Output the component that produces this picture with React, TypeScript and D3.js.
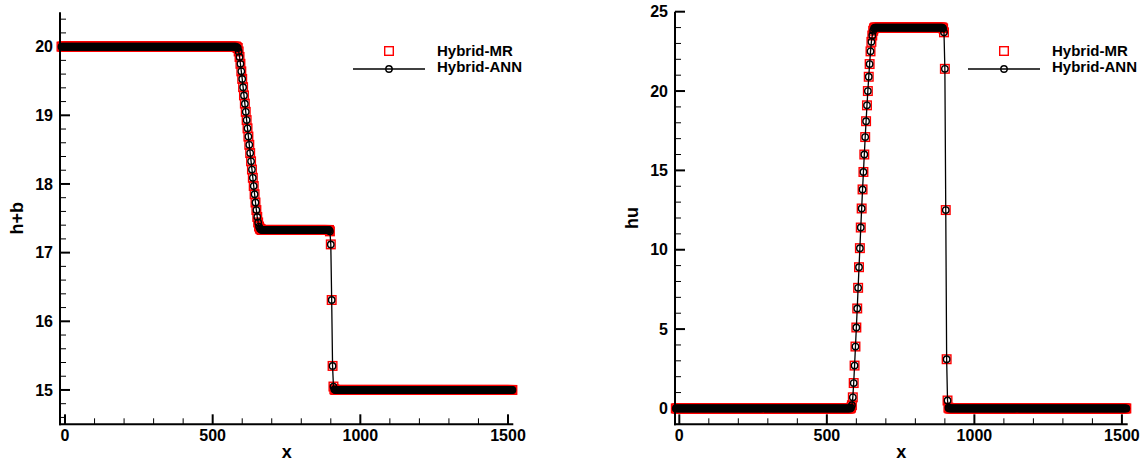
import React from "react";
import * as d3 from "d3";

// x positions of the solution points (uniform mesh)
const xGrid = [
  -12, -9, -6, -3, 0, 3, 6, 9, 12, 15,
  18, 21, 24, 27, 30, 33, 36, 39, 42, 45,
  48, 51, 54, 57, 60, 63, 66, 69, 72, 75,
  78, 81, 84, 87, 90, 93, 96, 99, 102, 105,
  108, 111, 114, 117, 120, 123, 126, 129, 132, 135,
  138, 141, 144, 147, 150, 153, 156, 159, 162, 165,
  168, 171, 174, 177, 180, 183, 186, 189, 192, 195,
  198, 201, 204, 207, 210, 213, 216, 219, 222, 225,
  228, 231, 234, 237, 240, 243, 246, 249, 252, 255,
  258, 261, 264, 267, 270, 273, 276, 279, 282, 285,
  288, 291, 294, 297, 300, 303, 306, 309, 312, 315,
  318, 321, 324, 327, 330, 333, 336, 339, 342, 345,
  348, 351, 354, 357, 360, 363, 366, 369, 372, 375,
  378, 381, 384, 387, 390, 393, 396, 399, 402, 405,
  408, 411, 414, 417, 420, 423, 426, 429, 432, 435,
  438, 441, 444, 447, 450, 453, 456, 459, 462, 465,
  468, 471, 474, 477, 480, 483, 486, 489, 492, 495,
  498, 501, 504, 507, 510, 513, 516, 519, 522, 525,
  528, 531, 534, 537, 540, 543, 546, 549, 552, 555,
  558, 561, 564, 567, 570, 573, 576, 579, 582, 585,
  588, 591, 594, 597, 600, 603, 606, 609, 612, 615,
  618, 621, 624, 627, 630, 633, 636, 639, 642, 645,
  648, 651, 654, 657, 660, 663, 666, 669, 672, 675,
  678, 681, 684, 687, 690, 693, 696, 699, 702, 705,
  708, 711, 714, 717, 720, 723, 726, 729, 732, 735,
  738, 741, 744, 747, 750, 753, 756, 759, 762, 765,
  768, 771, 774, 777, 780, 783, 786, 789, 792, 795,
  798, 801, 804, 807, 810, 813, 816, 819, 822, 825,
  828, 831, 834, 837, 840, 843, 846, 849, 852, 855,
  858, 861, 864, 867, 870, 873, 876, 879, 882, 885,
  888, 891, 894, 897, 900, 903, 906, 909, 912, 915,
  918, 921, 924, 927, 930, 933, 936, 939, 942, 945,
  948, 951, 954, 957, 960, 963, 966, 969, 972, 975,
  978, 981, 984, 987, 990, 993, 996, 999, 1002, 1005,
  1008, 1011, 1014, 1017, 1020, 1023, 1026, 1029, 1032, 1035,
  1038, 1041, 1044, 1047, 1050, 1053, 1056, 1059, 1062, 1065,
  1068, 1071, 1074, 1077, 1080, 1083, 1086, 1089, 1092, 1095,
  1098, 1101, 1104, 1107, 1110, 1113, 1116, 1119, 1122, 1125,
  1128, 1131, 1134, 1137, 1140, 1143, 1146, 1149, 1152, 1155,
  1158, 1161, 1164, 1167, 1170, 1173, 1176, 1179, 1182, 1185,
  1188, 1191, 1194, 1197, 1200, 1203, 1206, 1209, 1212, 1215,
  1218, 1221, 1224, 1227, 1230, 1233, 1236, 1239, 1242, 1245,
  1248, 1251, 1254, 1257, 1260, 1263, 1266, 1269, 1272, 1275,
  1278, 1281, 1284, 1287, 1290, 1293, 1296, 1299, 1302, 1305,
  1308, 1311, 1314, 1317, 1320, 1323, 1326, 1329, 1332, 1335,
  1338, 1341, 1344, 1347, 1350, 1353, 1356, 1359, 1362, 1365,
  1368, 1371, 1374, 1377, 1380, 1383, 1386, 1389, 1392, 1395,
  1398, 1401, 1404, 1407, 1410, 1413, 1416, 1419, 1422, 1425,
  1428, 1431, 1434, 1437, 1440, 1443, 1446, 1449, 1452, 1455,
  1458, 1461, 1464, 1467, 1470, 1473, 1476, 1479, 1482, 1485,
  1488, 1491, 1494, 1497, 1500, 1503, 1506, 1509, 1512, 1515,
];

// h+b, Hybrid-MR
const hbMR = [
  20, 20, 20, 20, 20, 20, 20, 20, 20, 20,
  20, 20, 20, 20, 20, 20, 20, 20, 20, 20,
  20, 20, 20, 20, 20, 20, 20, 20, 20, 20,
  20, 20, 20, 20, 20, 20, 20, 20, 20, 20,
  20, 20, 20, 20, 20, 20, 20, 20, 20, 20,
  20, 20, 20, 20, 20, 20, 20, 20, 20, 20,
  20, 20, 20, 20, 20, 20, 20, 20, 20, 20,
  20, 20, 20, 20, 20, 20, 20, 20, 20, 20,
  20, 20, 20, 20, 20, 20, 20, 20, 20, 20,
  20, 20, 20, 20, 20, 20, 20, 20, 20, 20,
  20, 20, 20, 20, 20, 20, 20, 20, 20, 20,
  20, 20, 20, 20, 20, 20, 20, 20, 20, 20,
  20, 20, 20, 20, 20, 20, 20, 20, 20, 20,
  20, 20, 20, 20, 20, 20, 20, 20, 20, 20,
  20, 20, 20, 20, 20, 20, 20, 20, 20, 20,
  20, 20, 20, 20, 20, 20, 20, 20, 20, 20,
  20, 20, 20, 20, 20, 20, 20, 20, 20, 20,
  20, 20, 20, 20, 20, 20, 20, 20, 20, 20,
  20, 20, 20, 20, 20, 20, 20, 20, 20, 20,
  20, 20, 20, 20, 20, 20, 20, 20, 19.99, 19.98,
  19.93, 19.85, 19.75, 19.64, 19.53, 19.41, 19.29, 19.17, 19.05, 18.93,
  18.81, 18.69, 18.57, 18.45, 18.33, 18.21, 18.09, 17.97, 17.85, 17.73,
  17.62, 17.52, 17.44, 17.38, 17.35, 17.34, 17.33, 17.33, 17.33, 17.33,
  17.33, 17.33, 17.33, 17.33, 17.33, 17.33, 17.33, 17.33, 17.33, 17.33,
  17.33, 17.33, 17.33, 17.33, 17.33, 17.33, 17.33, 17.33, 17.33, 17.33,
  17.33, 17.33, 17.33, 17.33, 17.33, 17.33, 17.33, 17.33, 17.33, 17.33,
  17.33, 17.33, 17.33, 17.33, 17.33, 17.33, 17.33, 17.33, 17.33, 17.33,
  17.33, 17.33, 17.33, 17.33, 17.33, 17.33, 17.33, 17.33, 17.33, 17.33,
  17.33, 17.33, 17.33, 17.33, 17.33, 17.33, 17.33, 17.33, 17.33, 17.33,
  17.33, 17.33, 17.33, 17.33, 17.33, 17.33, 17.33, 17.33, 17.33, 17.33,
  17.33, 17.33, 17.33, 17.31, 17.12, 16.31, 15.35, 15.05, 15.01, 15,
  15, 15, 15, 15, 15, 15, 15, 15, 15, 15,
  15, 15, 15, 15, 15, 15, 15, 15, 15, 15,
  15, 15, 15, 15, 15, 15, 15, 15, 15, 15,
  15, 15, 15, 15, 15, 15, 15, 15, 15, 15,
  15, 15, 15, 15, 15, 15, 15, 15, 15, 15,
  15, 15, 15, 15, 15, 15, 15, 15, 15, 15,
  15, 15, 15, 15, 15, 15, 15, 15, 15, 15,
  15, 15, 15, 15, 15, 15, 15, 15, 15, 15,
  15, 15, 15, 15, 15, 15, 15, 15, 15, 15,
  15, 15, 15, 15, 15, 15, 15, 15, 15, 15,
  15, 15, 15, 15, 15, 15, 15, 15, 15, 15,
  15, 15, 15, 15, 15, 15, 15, 15, 15, 15,
  15, 15, 15, 15, 15, 15, 15, 15, 15, 15,
  15, 15, 15, 15, 15, 15, 15, 15, 15, 15,
  15, 15, 15, 15, 15, 15, 15, 15, 15, 15,
  15, 15, 15, 15, 15, 15, 15, 15, 15, 15,
  15, 15, 15, 15, 15, 15, 15, 15, 15, 15,
  15, 15, 15, 15, 15, 15, 15, 15, 15, 15,
  15, 15, 15, 15, 15, 15, 15, 15, 15, 15,
  15, 15, 15, 15, 15, 15, 15, 15, 15, 15,
];

// h+b, Hybrid-ANN
const hbANN = [
  20, 20, 20, 20, 20, 20, 20, 20, 20, 20,
  20, 20, 20, 20, 20, 20, 20, 20, 20, 20,
  20, 20, 20, 20, 20, 20, 20, 20, 20, 20,
  20, 20, 20, 20, 20, 20, 20, 20, 20, 20,
  20, 20, 20, 20, 20, 20, 20, 20, 20, 20,
  20, 20, 20, 20, 20, 20, 20, 20, 20, 20,
  20, 20, 20, 20, 20, 20, 20, 20, 20, 20,
  20, 20, 20, 20, 20, 20, 20, 20, 20, 20,
  20, 20, 20, 20, 20, 20, 20, 20, 20, 20,
  20, 20, 20, 20, 20, 20, 20, 20, 20, 20,
  20, 20, 20, 20, 20, 20, 20, 20, 20, 20,
  20, 20, 20, 20, 20, 20, 20, 20, 20, 20,
  20, 20, 20, 20, 20, 20, 20, 20, 20, 20,
  20, 20, 20, 20, 20, 20, 20, 20, 20, 20,
  20, 20, 20, 20, 20, 20, 20, 20, 20, 20,
  20, 20, 20, 20, 20, 20, 20, 20, 20, 20,
  20, 20, 20, 20, 20, 20, 20, 20, 20, 20,
  20, 20, 20, 20, 20, 20, 20, 20, 20, 20,
  20, 20, 20, 20, 20, 20, 20, 20, 20, 20,
  20, 20, 20, 20, 20, 20, 20, 20, 19.99, 19.98,
  19.93, 19.85, 19.75, 19.64, 19.53, 19.41, 19.29, 19.17, 19.05, 18.93,
  18.81, 18.69, 18.57, 18.45, 18.33, 18.21, 18.09, 17.97, 17.85, 17.73,
  17.62, 17.52, 17.44, 17.38, 17.35, 17.34, 17.33, 17.33, 17.33, 17.33,
  17.33, 17.33, 17.33, 17.33, 17.33, 17.33, 17.33, 17.33, 17.33, 17.33,
  17.33, 17.33, 17.33, 17.33, 17.33, 17.33, 17.33, 17.33, 17.33, 17.33,
  17.33, 17.33, 17.33, 17.33, 17.33, 17.33, 17.33, 17.33, 17.33, 17.33,
  17.33, 17.33, 17.33, 17.33, 17.33, 17.33, 17.33, 17.33, 17.33, 17.33,
  17.33, 17.33, 17.33, 17.33, 17.33, 17.33, 17.33, 17.33, 17.33, 17.33,
  17.33, 17.33, 17.33, 17.33, 17.33, 17.33, 17.33, 17.33, 17.33, 17.33,
  17.33, 17.33, 17.33, 17.33, 17.33, 17.33, 17.33, 17.33, 17.33, 17.33,
  17.33, 17.33, 17.33, 17.31, 17.12, 16.31, 15.35, 15.05, 15.01, 15,
  15, 15, 15, 15, 15, 15, 15, 15, 15, 15,
  15, 15, 15, 15, 15, 15, 15, 15, 15, 15,
  15, 15, 15, 15, 15, 15, 15, 15, 15, 15,
  15, 15, 15, 15, 15, 15, 15, 15, 15, 15,
  15, 15, 15, 15, 15, 15, 15, 15, 15, 15,
  15, 15, 15, 15, 15, 15, 15, 15, 15, 15,
  15, 15, 15, 15, 15, 15, 15, 15, 15, 15,
  15, 15, 15, 15, 15, 15, 15, 15, 15, 15,
  15, 15, 15, 15, 15, 15, 15, 15, 15, 15,
  15, 15, 15, 15, 15, 15, 15, 15, 15, 15,
  15, 15, 15, 15, 15, 15, 15, 15, 15, 15,
  15, 15, 15, 15, 15, 15, 15, 15, 15, 15,
  15, 15, 15, 15, 15, 15, 15, 15, 15, 15,
  15, 15, 15, 15, 15, 15, 15, 15, 15, 15,
  15, 15, 15, 15, 15, 15, 15, 15, 15, 15,
  15, 15, 15, 15, 15, 15, 15, 15, 15, 15,
  15, 15, 15, 15, 15, 15, 15, 15, 15, 15,
  15, 15, 15, 15, 15, 15, 15, 15, 15, 15,
  15, 15, 15, 15, 15, 15, 15, 15, 15, 15,
  15, 15, 15, 15, 15, 15, 15, 15, 15, 15,
];

// hu, Hybrid-MR
const huMR = [
  0, 0, 0, 0, 0, 0, 0, 0, 0, 0,
  0, 0, 0, 0, 0, 0, 0, 0, 0, 0,
  0, 0, 0, 0, 0, 0, 0, 0, 0, 0,
  0, 0, 0, 0, 0, 0, 0, 0, 0, 0,
  0, 0, 0, 0, 0, 0, 0, 0, 0, 0,
  0, 0, 0, 0, 0, 0, 0, 0, 0, 0,
  0, 0, 0, 0, 0, 0, 0, 0, 0, 0,
  0, 0, 0, 0, 0, 0, 0, 0, 0, 0,
  0, 0, 0, 0, 0, 0, 0, 0, 0, 0,
  0, 0, 0, 0, 0, 0, 0, 0, 0, 0,
  0, 0, 0, 0, 0, 0, 0, 0, 0, 0,
  0, 0, 0, 0, 0, 0, 0, 0, 0, 0,
  0, 0, 0, 0, 0, 0, 0, 0, 0, 0,
  0, 0, 0, 0, 0, 0, 0, 0, 0, 0,
  0, 0, 0, 0, 0, 0, 0, 0, 0, 0,
  0, 0, 0, 0, 0, 0, 0, 0, 0, 0,
  0, 0, 0, 0, 0, 0, 0, 0, 0, 0,
  0, 0, 0, 0, 0, 0, 0, 0, 0, 0,
  0, 0, 0, 0, 0, 0, 0, 0, 0, 0,
  0, 0, 0, 0, 0, 0, 0, 0, 0.05, 0.2,
  0.7, 1.6, 2.7, 3.9, 5.1, 6.3, 7.6, 8.9, 10.1, 11.4,
  12.6, 13.8, 14.9, 16.0, 17.1, 18.1, 19.1, 20.0, 20.9, 21.7,
  22.5, 23.1, 23.5, 23.8, 23.95, 24, 24, 24, 24, 24,
  24, 24, 24, 24, 24, 24, 24, 24, 24, 24,
  24, 24, 24, 24, 24, 24, 24, 24, 24, 24,
  24, 24, 24, 24, 24, 24, 24, 24, 24, 24,
  24, 24, 24, 24, 24, 24, 24, 24, 24, 24,
  24, 24, 24, 24, 24, 24, 24, 24, 24, 24,
  24, 24, 24, 24, 24, 24, 24, 24, 24, 24,
  24, 24, 24, 24, 24, 24, 24, 24, 24, 24,
  24, 24, 23.95, 23.7, 21.4, 12.5, 3.1, 0.5, 0.05, 0,
  0, 0, 0, 0, 0, 0, 0, 0, 0, 0,
  0, 0, 0, 0, 0, 0, 0, 0, 0, 0,
  0, 0, 0, 0, 0, 0, 0, 0, 0, 0,
  0, 0, 0, 0, 0, 0, 0, 0, 0, 0,
  0, 0, 0, 0, 0, 0, 0, 0, 0, 0,
  0, 0, 0, 0, 0, 0, 0, 0, 0, 0,
  0, 0, 0, 0, 0, 0, 0, 0, 0, 0,
  0, 0, 0, 0, 0, 0, 0, 0, 0, 0,
  0, 0, 0, 0, 0, 0, 0, 0, 0, 0,
  0, 0, 0, 0, 0, 0, 0, 0, 0, 0,
  0, 0, 0, 0, 0, 0, 0, 0, 0, 0,
  0, 0, 0, 0, 0, 0, 0, 0, 0, 0,
  0, 0, 0, 0, 0, 0, 0, 0, 0, 0,
  0, 0, 0, 0, 0, 0, 0, 0, 0, 0,
  0, 0, 0, 0, 0, 0, 0, 0, 0, 0,
  0, 0, 0, 0, 0, 0, 0, 0, 0, 0,
  0, 0, 0, 0, 0, 0, 0, 0, 0, 0,
  0, 0, 0, 0, 0, 0, 0, 0, 0, 0,
  0, 0, 0, 0, 0, 0, 0, 0, 0, 0,
  0, 0, 0, 0, 0, 0, 0, 0, 0, 0,
];

// hu, Hybrid-ANN
const huANN = [
  0, 0, 0, 0, 0, 0, 0, 0, 0, 0,
  0, 0, 0, 0, 0, 0, 0, 0, 0, 0,
  0, 0, 0, 0, 0, 0, 0, 0, 0, 0,
  0, 0, 0, 0, 0, 0, 0, 0, 0, 0,
  0, 0, 0, 0, 0, 0, 0, 0, 0, 0,
  0, 0, 0, 0, 0, 0, 0, 0, 0, 0,
  0, 0, 0, 0, 0, 0, 0, 0, 0, 0,
  0, 0, 0, 0, 0, 0, 0, 0, 0, 0,
  0, 0, 0, 0, 0, 0, 0, 0, 0, 0,
  0, 0, 0, 0, 0, 0, 0, 0, 0, 0,
  0, 0, 0, 0, 0, 0, 0, 0, 0, 0,
  0, 0, 0, 0, 0, 0, 0, 0, 0, 0,
  0, 0, 0, 0, 0, 0, 0, 0, 0, 0,
  0, 0, 0, 0, 0, 0, 0, 0, 0, 0,
  0, 0, 0, 0, 0, 0, 0, 0, 0, 0,
  0, 0, 0, 0, 0, 0, 0, 0, 0, 0,
  0, 0, 0, 0, 0, 0, 0, 0, 0, 0,
  0, 0, 0, 0, 0, 0, 0, 0, 0, 0,
  0, 0, 0, 0, 0, 0, 0, 0, 0, 0,
  0, 0, 0, 0, 0, 0, 0, 0, 0.05, 0.2,
  0.7, 1.6, 2.7, 3.9, 5.1, 6.3, 7.6, 8.9, 10.1, 11.4,
  12.6, 13.8, 14.9, 16.0, 17.1, 18.1, 19.1, 20.0, 20.9, 21.7,
  22.5, 23.1, 23.5, 23.8, 23.95, 24, 24, 24, 24, 24,
  24, 24, 24, 24, 24, 24, 24, 24, 24, 24,
  24, 24, 24, 24, 24, 24, 24, 24, 24, 24,
  24, 24, 24, 24, 24, 24, 24, 24, 24, 24,
  24, 24, 24, 24, 24, 24, 24, 24, 24, 24,
  24, 24, 24, 24, 24, 24, 24, 24, 24, 24,
  24, 24, 24, 24, 24, 24, 24, 24, 24, 24,
  24, 24, 24, 24, 24, 24, 24, 24, 24, 24,
  24, 24, 23.95, 23.7, 21.4, 12.5, 3.1, 0.5, 0.05, 0,
  0, 0, 0, 0, 0, 0, 0, 0, 0, 0,
  0, 0, 0, 0, 0, 0, 0, 0, 0, 0,
  0, 0, 0, 0, 0, 0, 0, 0, 0, 0,
  0, 0, 0, 0, 0, 0, 0, 0, 0, 0,
  0, 0, 0, 0, 0, 0, 0, 0, 0, 0,
  0, 0, 0, 0, 0, 0, 0, 0, 0, 0,
  0, 0, 0, 0, 0, 0, 0, 0, 0, 0,
  0, 0, 0, 0, 0, 0, 0, 0, 0, 0,
  0, 0, 0, 0, 0, 0, 0, 0, 0, 0,
  0, 0, 0, 0, 0, 0, 0, 0, 0, 0,
  0, 0, 0, 0, 0, 0, 0, 0, 0, 0,
  0, 0, 0, 0, 0, 0, 0, 0, 0, 0,
  0, 0, 0, 0, 0, 0, 0, 0, 0, 0,
  0, 0, 0, 0, 0, 0, 0, 0, 0, 0,
  0, 0, 0, 0, 0, 0, 0, 0, 0, 0,
  0, 0, 0, 0, 0, 0, 0, 0, 0, 0,
  0, 0, 0, 0, 0, 0, 0, 0, 0, 0,
  0, 0, 0, 0, 0, 0, 0, 0, 0, 0,
  0, 0, 0, 0, 0, 0, 0, 0, 0, 0,
  0, 0, 0, 0, 0, 0, 0, 0, 0, 0,
];

const xMajorTicks = [0, 500, 1000, 1500];
const leftYMajorTicks = [15, 16, 17, 18, 19, 20];
const rightYMajorTicks = [0, 5, 10, 15, 20, 25];
const legendLabels = ["Hybrid-MR", "Hybrid-ANN"];

const FONT = "'Liberation Sans', Arial, Helvetica, sans-serif";
const RED = "#ff0000";

type PanelProps = {
  xDomain: [number, number];
  xRange: [number, number];
  yDomain: [number, number];
  yRange: [number, number];
  yMajor: number[];
  yMinorCount: number;
  yTitle: string;
  mr: number[];
  ann: number[];
};

function Panel(p: PanelProps) {
  const x = d3.scaleLinear().domain(p.xDomain).range(p.xRange);
  const y = d3.scaleLinear().domain(p.yDomain).range(p.yRange);
  const x0 = p.xRange[0];
  const y0 = p.yRange[0];
  const xMinor = x.ticks(15).filter((t) => !xMajorTicks.includes(t));
  const yMinor = y
    .ticks(p.yMinorCount)
    .filter((t) => !p.yMajor.some((m) => Math.abs(m - t) < 1e-6));
  const line = d3
    .line<number>()
    .x((_, i) => x(xGrid[i]))
    .y((d) => y(d));
  const sq = 8.6;
  const legCx = x0 + 329;
  return (
    <g>
      {/* Hybrid-MR squares */}
      <g fill="none" stroke={RED} strokeWidth={1.4}>
        {p.mr.map((v, i) => (
          <rect
            key={i}
            x={x(xGrid[i]) - sq / 2}
            y={y(v) - sq / 2}
            width={sq}
            height={sq}
          />
        ))}
      </g>
      {/* Hybrid-ANN line + circles */}
      <path d={line(p.ann) || ""} fill="none" stroke="#000" strokeWidth={1.3} />
      <g fill="none" stroke="#000" strokeWidth={1.4}>
        {p.ann.map((v, i) => (
          <circle key={i} cx={x(xGrid[i])} cy={y(v)} r={3.2} />
        ))}
      </g>
      {/* axes */}
      <line x1={x0} x2={x0} y1={p.yRange[1]} y2={y0 + 1} stroke="#000" strokeWidth={2} />
      <line x1={x0 - 1} x2={p.xRange[1]} y1={y0} y2={y0} stroke="#000" strokeWidth={2} />
      {xMajorTicks.map((t) => (
        <g key={"xm" + t}>
          <line x1={x(t)} x2={x(t)} y1={y0} y2={y0 - 10} stroke="#000" strokeWidth={2} />
          <text
            x={x(t)}
            y={y0 + 17}
            textAnchor="middle"
            fontFamily={FONT}
            fontWeight="bold"
            fontSize={16}
          >
            {t}
          </text>
        </g>
      ))}
      {xMinor.map((t) => (
        <line key={"xn" + t} x1={x(t)} x2={x(t)} y1={y0} y2={y0 - 6} stroke="#000" strokeWidth={1} />
      ))}
      {p.yMajor.map((t) => (
        <g key={"ym" + t}>
          <line x1={x0} x2={x0 + 10} y1={y(t)} y2={y(t)} stroke="#000" strokeWidth={2} />
          <text
            x={x0 - 7}
            y={y(t)}
            dy="0.36em"
            textAnchor="end"
            fontFamily={FONT}
            fontWeight="bold"
            fontSize={16}
          >
            {t}
          </text>
        </g>
      ))}
      {yMinor.map((t) => (
        <line key={"yn" + t} x1={x0} x2={x0 + 6} y1={y(t)} y2={y(t)} stroke="#000" strokeWidth={1} />
      ))}
      {/* axis titles */}
      <text
        x={(p.xRange[0] + p.xRange[1]) / 2}
        y={458}
        textAnchor="middle"
        fontFamily={FONT}
        fontWeight="bold"
        fontSize={18}
      >
        x
      </text>
      <text
        transform={`translate(${x0 - 37},${(p.yRange[0] + p.yRange[1]) / 2}) rotate(-90)`}
        textAnchor="middle"
        fontFamily={FONT}
        fontWeight="bold"
        fontSize={18}
      >
        {p.yTitle}
      </text>
      {/* legend */}
      <rect
        x={legCx - sq / 2}
        y={51 - sq / 2}
        width={sq}
        height={sq}
        fill="none"
        stroke={RED}
        strokeWidth={1.4}
      />
      <line x1={legCx - 36} x2={legCx + 36} y1={69} y2={69} stroke="#000" strokeWidth={1.3} />
      <circle cx={legCx} cy={69} r={3.2} fill="none" stroke="#000" strokeWidth={1.4} />
      <text x={legCx + 48} y={55.5} fontFamily={FONT} fontWeight="bold" fontSize={15}>
        {legendLabels[0]}
      </text>
      <text x={legCx + 48} y={72} fontFamily={FONT} fontWeight="bold" fontSize={15}>
        {legendLabels[1]}
      </text>
    </g>
  );
}

export default function App() {
  return (
    <svg
      width={1146}
      height={466}
      style={{ position: "absolute", left: 0, top: 0, background: "#fff", display: "block" }}
    >
      <rect x={0} y={0} width={1146} height={466} fill="#fff" />
      <Panel
        xDomain={[-17, 1518]}
        xRange={[60, 513.3]}
        yDomain={[14.5, 20.5]}
        yRange={[424.3, 12.3]}
        yMajor={leftYMajorTicks}
        yMinorCount={30}
        yTitle="h+b"
        mr={hbMR}
        ann={hbANN}
      />
      <Panel
        xDomain={[-14.6, 1519.6]}
        xRange={[675, 1127.7]}
        yDomain={[-1, 25]}
        yRange={[424.3, 11.7]}
        yMajor={rightYMajorTicks}
        yMinorCount={26}
        yTitle="hu"
        mr={huMR}
        ann={huANN}
      />
    </svg>
  );
}
